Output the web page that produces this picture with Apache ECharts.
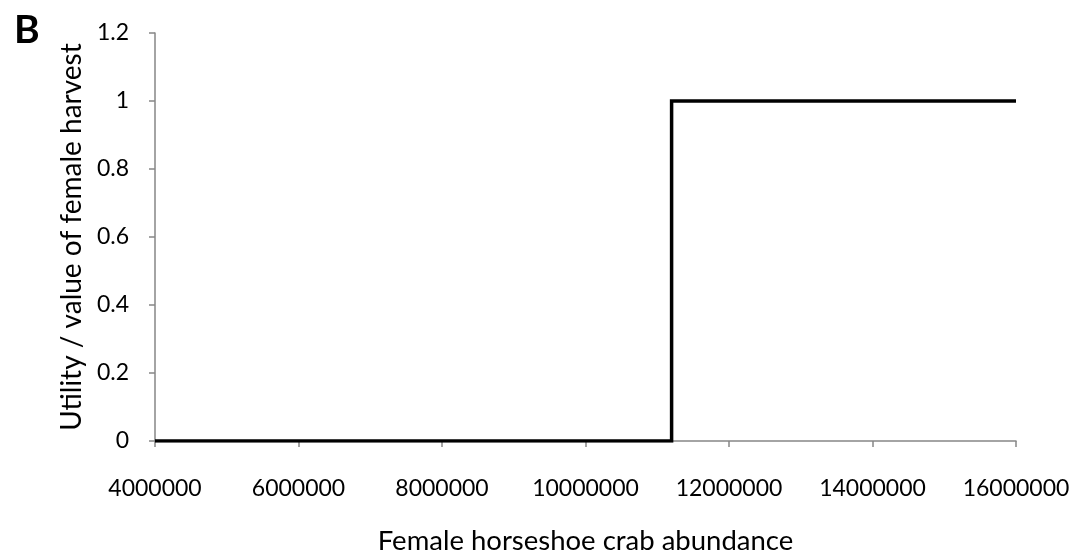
<!DOCTYPE html>
<html>
<head>
<meta charset="utf-8">
<script src="https://cdn.jsdelivr.net/npm/echarts@6/dist/echarts.min.js"></script>
<style>
  html, body { margin: 0; padding: 0; background: #fff; }
  #chart { width: 1078px; height: 554px; }
</style>
</head>
<body>
<div id="chart"></div>
<script>
  // abundance (x) and utility (y) of the step curve
  var abundance = [4000000, 11200000, 11200000, 16000000]
  var utility = [0, 0, 1, 1]
  var xTitle = 'Female horseshoe crab abundance'
  var yTitle = 'Utility / value of female harvest'

  var points = []
  for (var i = 0; i < abundance.length; i++) {
    points.push([abundance[i], utility[i]])
  }

  var font = 'Lato, "Open Sans", sans-serif'
  var axisGray = '#868686'

  var myChart = echarts.init(document.getElementById('chart'))
  myChart.setOption({
    animation: false,
    title: {
      text: 'B',
      left: 9,
      top: 6,
      textStyle: { fontFamily: font, fontSize: 39, fontWeight: 'bold', color: '#000' }
    },
    grid: { left: 155, right: 62, top: 33, bottom: 113, outerBoundsMode: 'none' },
    xAxis: {
      type: 'value',
      min: 4000000,
      max: 16000000,
      interval: 2000000,
      name: xTitle,
      nameLocation: 'middle',
      nameGap: 86,
      nameTextStyle: { fontFamily: font, fontSize: 27.5, color: '#000' },
      axisLine: { show: true, lineStyle: { color: axisGray, width: 1.5 } },
      axisTick: { show: true, length: 6, lineStyle: { color: axisGray, width: 1.5 } },
      axisLabel: {
        fontFamily: font, fontSize: 23, color: '#000', margin: 36,
        formatter: function (v) { return String(v) }
      },
      splitLine: { show: false }
    },
    yAxis: {
      type: 'value',
      min: 0,
      max: 1.2,
      interval: 0.2,
      name: yTitle,
      nameLocation: 'middle',
      nameGap: 68,
      nameTextStyle: { fontFamily: font, fontSize: 28, color: '#000' },
      axisLine: { show: true, lineStyle: { color: axisGray, width: 1.5 } },
      axisTick: { show: true, length: 6, lineStyle: { color: axisGray, width: 1.5 } },
      axisLabel: { fontFamily: font, fontSize: 23, color: '#000', margin: 26 },
      splitLine: { show: false }
    },
    series: [
      {
        type: 'line',
        data: points,
        symbol: 'none',
        lineStyle: { color: '#000', width: 3.5, join: 'miter' },
        z: 5
      }
    ]
  })
</script>
</body>
</html>
